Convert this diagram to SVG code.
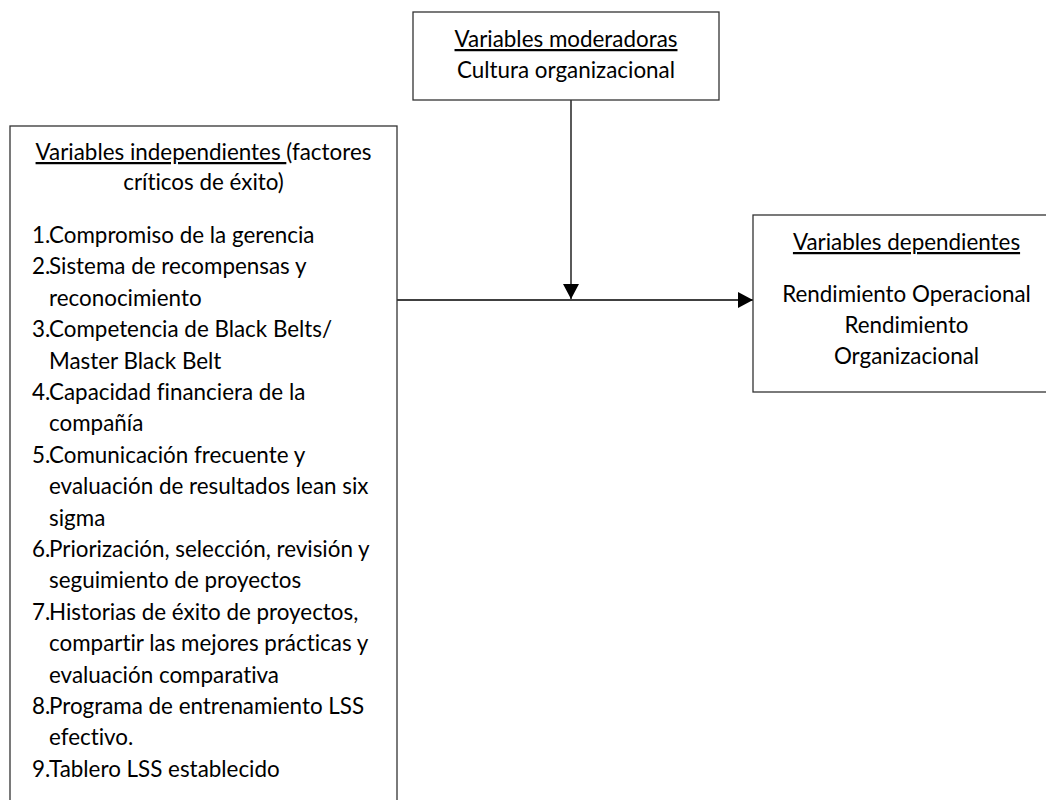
<svg xmlns="http://www.w3.org/2000/svg" width="1046" height="800" viewBox="0 0 1046 800">
  <style>
    .box { fill: #ffffff; stroke: #333333; stroke-width: 1.3; }
    .t { font-family: Lato, "Liberation Sans", sans-serif; font-size: 22.4px; fill: #000000; font-variant-ligatures: none; }
    .c { text-anchor: middle; }
    .u { text-decoration: underline; }
    .link { stroke: #000000; stroke-width: 1.3; fill: none; marker-end: url(#arrow); }
  </style>
  <defs>
    <marker id="arrow" markerUnits="userSpaceOnUse" markerWidth="16" markerHeight="16" refX="15" refY="8" orient="auto">
      <path d="M0,0 L15,8 L0,16 Z" fill="#000000"/>
    </marker>
  </defs>
  <rect width="1046" height="800" fill="#ffffff"/>

  <!-- Connectors -->
  <g id="connectors">
    <line class="link" x1="397" y1="300" x2="753" y2="300"/>
    <line class="link" x1="571" y1="100" x2="571" y2="299"/>
  </g>

  <!-- Independent variables -->
  <g id="independientes">
    <rect class="box" x="10" y="126" width="387" height="700"/>
    <text class="t c" x="203.5" y="160"><tspan class="u">Variables independientes </tspan>(factores</text>
    <text class="t c" x="203.5" y="190">críticos de éxito)</text>
    <g class="t">
      <text x="32" y="243">1.</text><text x="49" y="243">Compromiso de la gerencia</text>
      <text x="32" y="274.4">2.</text><text x="49" y="274.4">Sistema de recompensas y</text>
      <text x="49" y="305.8">reconocimiento</text>
      <text x="32" y="337.2">3.</text><text x="49" y="337.2">Competencia de Black Belts/</text>
      <text x="49" y="368.6">Master Black Belt</text>
      <text x="32" y="400">4.</text><text x="49" y="400">Capacidad financiera de la</text>
      <text x="49" y="431.4">compañía</text>
      <text x="32" y="462.8">5.</text><text x="49" y="462.8">Comunicación frecuente y</text>
      <text x="49" y="494.2">evaluación de resultados lean six</text>
      <text x="49" y="525.6">sigma</text>
      <text x="32" y="557">6.</text><text x="49" y="557">Priorización, selección, revisión y</text>
      <text x="49" y="588.4">seguimiento de proyectos</text>
      <text x="32" y="619.8">7.</text><text x="49" y="619.8">Historias de éxito de proyectos,</text>
      <text x="49" y="651.2">compartir las mejores prácticas y</text>
      <text x="49" y="682.6">evaluación comparativa</text>
      <text x="32" y="714">8.</text><text x="49" y="714">Programa de entrenamiento LSS</text>
      <text x="49" y="745.4">efectivo.</text>
      <text x="32" y="776.8">9.</text><text x="49" y="776.8">Tablero LSS establecido</text>
    </g>
  </g>

  <!-- Moderating variables -->
  <g id="moderadoras">
    <rect class="box" x="413" y="12" width="306" height="88"/>
    <text class="t c u" x="566" y="47">Variables moderadoras</text>
    <text class="t c" x="566" y="78.4">Cultura organizacional</text>
  </g>

  <!-- Dependent variables -->
  <g id="dependientes">
    <rect class="box" x="753" y="215" width="400" height="177"/>
    <text class="t c u" x="906.5" y="250">Variables dependientes</text>
    <text class="t c" x="906.5" y="301.5">Rendimiento Operacional</text>
    <text class="t c" x="906.5" y="332.5">Rendimiento</text>
    <text class="t c" x="906.5" y="363.5">Organizacional</text>
  </g>
</svg>
